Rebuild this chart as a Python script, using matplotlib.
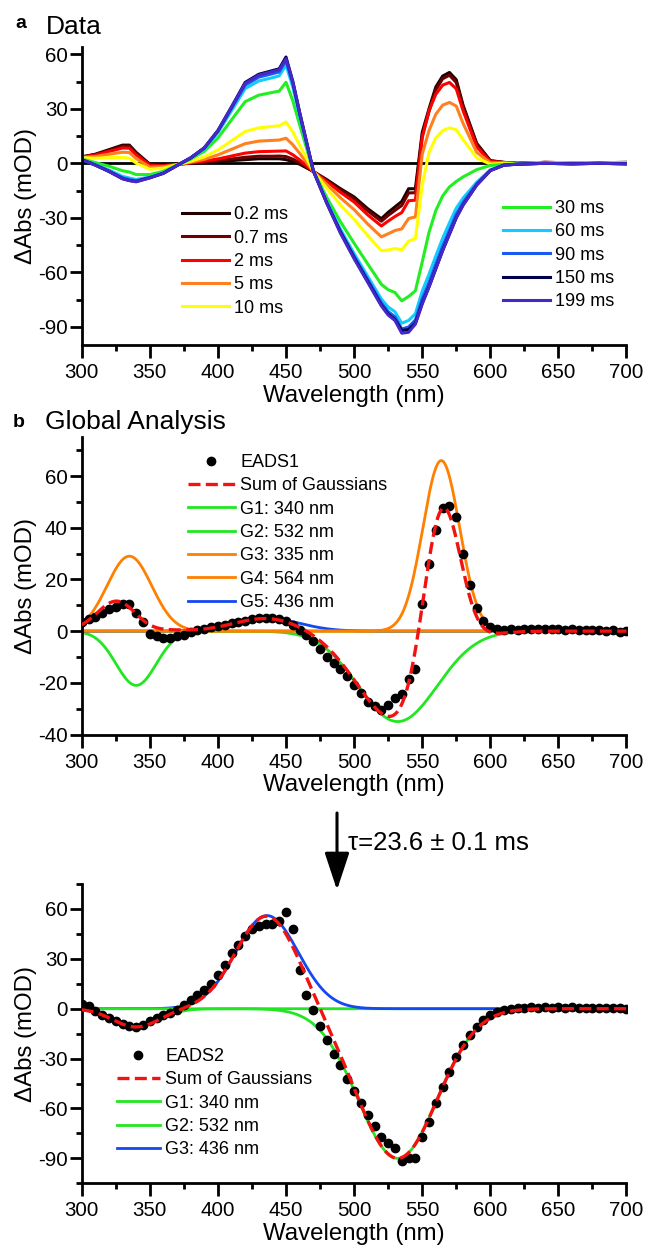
import numpy as np
import matplotlib
matplotlib.use("Agg")
import matplotlib.pyplot as plt
from matplotlib.ticker import MultipleLocator

plt.rcParams['font.family'] = ['Liberation Sans', 'DejaVu Sans']
plt.rcParams['axes.unicode_minus'] = False

# ---------------- panel a: transient spectra at several delays ----------------
wl_a = [300, 310, 320, 330, 335, 340, 350, 360, 370, 380, 390, 400, 410, 420, 430,
        440, 445, 450, 455, 460, 470, 480, 490, 500, 510, 520, 525, 530, 535, 540,
        545, 550, 555, 560, 565, 570, 575, 580, 590, 600, 610, 620, 640, 660, 680, 700]

delay_labels = ['0.2 ms', '0.7 ms', '2 ms', '5 ms', '10 ms',
                '30 ms', '60 ms', '90 ms', '150 ms', '199 ms']
delay_colors = ['#1e0000', '#6e0000', '#ff0000', '#ff8020', '#ffff00',
                '#22ee22', '#11ccff', '#1a5af0', '#00004f', '#4428c8']

dA_0p2ms = [3.5, 5, 7.5, 10, 10, 6, -0.5, -1, -0.5, 0, 0.5, 1, 1.5, 2, 2.5, 2.5, 2.5, 2, 1, -0.5,
            -4.5, -9, -14, -18.5, -25, -30.5, -27, -24, -21, -14, -14, 17, 30, 42, 48, 50, 46, 32,
            11, 1.5, 0.5, 0, 0.5, 0.3, 0.3, 0.5]
dA_0p7ms = [3.5, 4.8, 7.1, 9.4, 9.4, 5.5, -0.7, -1.1, -0.5, 0.1, 0.7, 1.5, 2.4, 3.3, 3.9, 3.9, 4.0,
            3.7, 2.3, 0.4, -4.5, -9.4, -14.7, -19.5, -26.2, -31.9, -28.7, -25.9, -23.2, -16.3,
            -16.2, 15.0, 28.5, 40.5, 46.5, 48.5, 44.5, 31.0, 10.5, 1.3, 0.5, 0.0, 0.5, 0.3, 0.3, 0.5]
dA_2ms = [3.4, 4.5, 6.5, 8.4, 8.3, 4.6, -1.1, -1.4, -0.6, 0.3, 1.2, 2.4, 4.0, 5.6, 6.4, 6.6, 6.7,
          6.8, 4.7, 1.9, -4.5, -10.1, -16.0, -21.3, -28.4, -34.5, -31.8, -29.3, -27.1, -20.6,
          -20.3, 14.0, 29.0, 38.0, 43.0, 44.5, 41.0, 29.0, 9.0, 1.0, 0.4, 0.0, 0.5, 0.3, 0.3, 0.4]
dA_5ms = [3.2, 3.7, 5.0, 6.1, 5.9, 2.6, -2.1, -1.9, -0.7, 0.6, 2.2, 4.6, 7.7, 10.8, 12.2, 12.6,
          12.8, 13.8, 10.2, 5.5, -4.4, -11.7, -19.0, -25.5, -33.4, -40.5, -38.8, -37.0, -36.1,
          -30.4, -29.5, 5.0, 18.0, 27.0, 32.0, 33.5, 31.5, 22.0, 6.0, 0.3, 0.2, -0.1, 0.4, 0.2,
          0.2, 0.3]
dA_10ms = [3.0, 2.8, 3.1, 3.2, 2.8, 0.1, -3.3, -2.7, -0.8, 1.1, 3.5, 7.3, 12.4, 17.5, 19.5, 20.3,
           20.6, 22.7, 17.3, 10.0, -4.3, -13.8, -22.9, -30.9, -39.8, -48.1, -47.7, -46.9, -47.6,
           -42.9, -41.4, -12.0, 6.0, 14.0, 18.0, 19.5, 18.5, 13.0, 3.0, -0.5, 0.0, -0.2, 0.3,
           0.1, 0.2, 0.2]
dA_30ms = [2.4, 0.4, -1.6, -4.1, -4.8, -6.2, -6.2, -4.4, -1.0, 2.3, 6.6, 13.9, 23.9, 33.9, 37.5,
           39.0, 39.7, 44.6, 34.4, 21.2, -4.1, -18.9, -32.2, -44.0, -55.4, -66.6, -69.6, -71.1,
           -75.7, -73.3, -70.2, -54.4, -38.0, -26.0, -18.0, -13.0, -10.0, -7.5, -3.5, -1.2, -0.6,
           -0.4, 0.1, -0.2, 0.1, -0.1]
dA_60ms = [2.1, -0.6, -3.7, -7.2, -8.1, -8.9, -7.5, -5.2, -1.2, 2.8, 7.9, 16.8, 28.9, 41.1, 45.3,
           47.1, 48.1, 54.1, 41.9, 26.0, -4.0, -21.1, -36.3, -49.7, -62.2, -74.7, -79.1, -81.7,
           -88.0, -86.5, -82.8, -70.4, -61.1, -51.0, -41.3, -32.8, -24.7, -19.2, -10.4, -3.6,
           -0.9, -0.5, 0.0, -0.3, 0.0, -0.3]
dA_90ms = [2.0, -0.9, -4.2, -8.0, -9.0, -9.6, -7.8, -5.4, -1.2, 2.9, 8.3, 17.6, 30.3, 43.0, 47.4,
           49.3, 50.3, 56.6, 43.9, 27.3, -4.0, -21.7, -37.4, -51.2, -64.0, -76.8, -81.6, -84.5,
           -91.2, -90.1, -86.2, -74.7, -65.6, -55.5, -45.6, -36.8, -28.1, -21.6, -11.4, -3.9,
           -1.0, -0.5, 0.0, -0.3, 0.0, -0.3]
dA_150ms = [2.0, -1.0, -4.5, -8.5, -9.5, -10.0, -8.0, -5.5, -1.2, 3.0, 8.5, 18.0, 31.0, 44.5,
            49.0, 51.0, 52.0, 58.5, 45.0, 28.0, -4.0, -22.0, -38.0, -52.0, -65.0, -78.0, -83.0,
            -86.0, -92.0, -91.5, -88.0, -77.0, -68.0, -58.0, -48.0, -39.0, -30.0, -23.0, -12.0,
            -4.0, -1.0, -0.5, 0.0, -0.3, 0.0, -0.3]
dA_199ms = [2.0, -1.0, -4.5, -8.5, -9.5, -10.2, -8.0, -5.5, -1.2, 3.0, 8.5, 18.0, 31.0, 44.0,
            48.5, 50.5, 51.5, 57.5, 45.0, 28.0, -4.0, -22.0, -38.5, -52.5, -65.5, -78.5, -83.5,
            -86.5, -93.5, -93.0, -88.5, -77.5, -68.0, -58.0, -48.0, -39.0, -30.0, -23.0, -12.0,
            -4.0, -1.0, -0.5, 0.0, -0.3, 0.0, -0.3]
spectra_a = [dA_0p2ms, dA_0p7ms, dA_2ms, dA_5ms, dA_10ms,
             dA_30ms, dA_60ms, dA_90ms, dA_150ms, dA_199ms]

# ---------------- panels b, c: evolution-associated difference spectra ----------------
wl_eads = list(range(300, 705, 5))
eads1 = [3.5, 4.5, 5.5, 7, 8.5, 9.5, 10.5, 10.5, 7, 3.5,
         -1, -2, -2.5, -2.5, -2, -1.5, -0.5, 0.5, 1, 1.5,
         2, 2.5, 3, 3.5, 4, 4.5, 5, 5, 5, 4.5,
         4, 2.5, 0.5, -1.5, -4, -7, -10, -12.5, -14.5, -17.5,
         -21, -24, -27.5, -29, -30.5, -28.5, -26, -24.5, -18.5, -14.5,
         10.5, 26, 39, 47.5, 48.5, 44, 30, 18, 9, 4,
         1.5, 1, 0.5, 0.8, 0.5, 0.8, 1, 1, 0.8, 1,
         0.8, 0.5, 0.8, 0.5, 0.3, 0.5, 0.3, 0, 0.3, -0.3,
         0]
eads2 = [3, 1.5, -1.5, -3.5, -5.5, -7.5, -9, -10.5, -11, -10,
         -7.5, -5.5, -4, -2.5, -0.5, 2, 5, 8, 11, 15,
         20, 26.5, 33.5, 38.5, 44, 48, 50, 51, 51, 52.5,
         58, 48, 23, 8.5, -1, -10.5, -19, -27, -34, -42,
         -49.5, -56.5, -64, -70.5, -77, -80.5, -83.5, -91.5, -90, -89.5,
         -77, -68, -57, -47, -38, -29, -22, -16, -11, -7,
         -4, -2, -1, 0, 0.5, 0.5, 0.8, 0.5, 0.8, 0.5,
         0.8, 0.5, 0.8, 0.3, 0.5, 0.3, 0.5, 0.3, 0.5, 0.3,
         0]

# Gaussian components (amplitude in mOD, centre and width in nm)
b_labels = ['G1: 340 nm', 'G2: 532 nm', 'G3: 335 nm', 'G4: 564 nm', 'G5: 436 nm']
b_amp = [-21, -35, 29, 66, 5]
b_center = [340, 532, 335, 564, 436]
b_sigma = [14.7, 29, 16.4, 13.5, 24]
b_colors = ['#22e622', '#22e622', '#ff8000', '#ff8000', '#1448f0']

c_labels = ['G1: 340 nm', 'G2: 532 nm', 'G3: 436 nm']
c_amp = [-11, -90, 56]
c_center = [340, 532, 436]
c_sigma = [17, 29, 23]
c_colors = ['#22e622', '#22e622', '#1448f0']

tau_text = '\u03c4=23.6 \u00b1 0.1 ms'

W, H = 647, 1248
fig = plt.figure(figsize=(W / 100, H / 100), dpi=100)


def frame(top, bottom, left=81.7, right=626.5):
    return [left / W, 1 - bottom / H, (right - left) / W, (bottom - top) / H]


ax_a = fig.add_axes(frame(47, 345))
ax_b = fig.add_axes(frame(437.3, 734.5))
ax_c = fig.add_axes(frame(884, 1183.3))


def style(ax, ylim, major, minor):
    ax.set_xlim(300, 700)
    ax.set_ylim(*ylim)
    for s in ('top', 'right'):
        ax.spines[s].set_visible(False)
    for s in ('left', 'bottom'):
        ax.spines[s].set_linewidth(2.0)
    ax.xaxis.set_major_locator(MultipleLocator(50))
    ax.xaxis.set_minor_locator(MultipleLocator(25))
    ax.yaxis.set_major_locator(MultipleLocator(major))
    ax.yaxis.set_minor_locator(MultipleLocator(minor))
    ax.tick_params(which='major', length=9, width=2, labelsize=14.8, direction='out')
    ax.tick_params(which='minor', length=4.5, width=2, direction='out')
    ax.tick_params(axis='x', which='major', pad=4)
    ax.tick_params(axis='y', which='major', pad=1)
    ax.set_xlabel('Wavelength (nm)', fontsize=17.3, labelpad=2)
    ax.set_ylabel('\u0394Abs (mOD)', fontsize=17.3, labelpad=1)


# ---- panel a ----
ax_a.axhline(0, color='black', lw=2.0, zorder=1.5)
lines_a = []
for spec, lab, col in zip(spectra_a, delay_labels, delay_colors):
    ln, = ax_a.plot(wl_a, spec, color=col, lw=2.2, label=lab, zorder=2)
    lines_a.append(ln)
style(ax_a, (-100, 64), 30, 15)
leg_kw = dict(frameon=False, fontsize=13, handlelength=2.6, handletextpad=0.3,
              labelspacing=0.35, borderpad=0, borderaxespad=0, loc='upper left')
leg1 = ax_a.legend(handles=lines_a[:5], bbox_to_anchor=(0.1836, 0.4655), **leg_kw)
ax_a.add_artist(leg1)
ax_a.legend(handles=lines_a[5:], bbox_to_anchor=(0.7728, 0.486), **leg_kw)

# ---- panel b ----
x_fit = np.linspace(300, 700, 801)
comps_b = [a * np.exp(-(x_fit - c) ** 2 / (2 * s ** 2))
           for a, c, s in zip(b_amp, b_center, b_sigma)]
order_b = [0, 1, 4, 2, 3]
handles_b = {}
for i in order_b:
    handles_b[i], = ax_b.plot(x_fit, comps_b[i], color=b_colors[i], lw=2.0, label=b_labels[i])
dots_b, = ax_b.plot(wl_eads, eads1, 'o', color='black', ms=6, label='EADS1', zorder=3)
sum_b, = ax_b.plot(x_fit, np.sum(comps_b, axis=0), color='#f21212', lw=2.4,
                   ls=(0, (3.6, 1.6)), label='Sum of Gaussians', zorder=4)
style(ax_b, (-40, 75), 20, 10)
ax_b.legend(handles=[dots_b, sum_b] + [handles_b[i] for i in range(5)],
            bbox_to_anchor=(0.1946, 0.9438), **leg_kw)

# ---- panel c ----
comps_c = [a * np.exp(-(x_fit - c) ** 2 / (2 * s ** 2))
           for a, c, s in zip(c_amp, c_center, c_sigma)]
order_c = [0, 2, 1]
handles_c = {}
for i in order_c:
    handles_c[i], = ax_c.plot(x_fit, comps_c[i], color=c_colors[i], lw=2.0, label=c_labels[i])
dots_c, = ax_c.plot(wl_eads, eads2, 'o', color='black', ms=6, label='EADS2', zorder=3)
sum_c, = ax_c.plot(x_fit, np.sum(comps_c, axis=0), color='#f21212', lw=2.4,
                   ls=(0, (3.6, 1.6)), label='Sum of Gaussians', zorder=4)
style(ax_c, (-105, 75), 30, 15)
leg_c = dict(leg_kw, handlelength=2.4)
ax_c.legend(handles=[dots_c, sum_c] + [handles_c[i] for i in range(3)],
            bbox_to_anchor=(0.0642, 0.452), **leg_c)

# ---- panel titles and the decay arrow ----
fig.text(15 / W, 1 - 28 / H, 'a', fontsize=14, fontweight='bold', va='baseline')
fig.text(46 / W, 1 - 34 / H, 'Data', fontsize=19, va='baseline')
fig.text(13 / W, 1 - 427 / H, 'b', fontsize=14, fontweight='bold', va='baseline')
fig.text(45 / W, 1 - 429 / H, 'Global Analysis', fontsize=19, va='baseline')

fig.add_artist(matplotlib.patches.FancyArrowPatch(
    (337 / W, 1 - 813 / H), (337 / W, 1 - 890 / H), transform=fig.transFigure,
    arrowstyle='-|>,head_length=1.15,head_width=0.38', mutation_scale=20,
    color='black', lw=2.2, shrinkA=0, shrinkB=0))
fig.text(348 / W, 1 - 843.5 / H, tau_text, fontsize=18.5, va='center', ha='left')

fig.savefig('out.png', dpi=100)
